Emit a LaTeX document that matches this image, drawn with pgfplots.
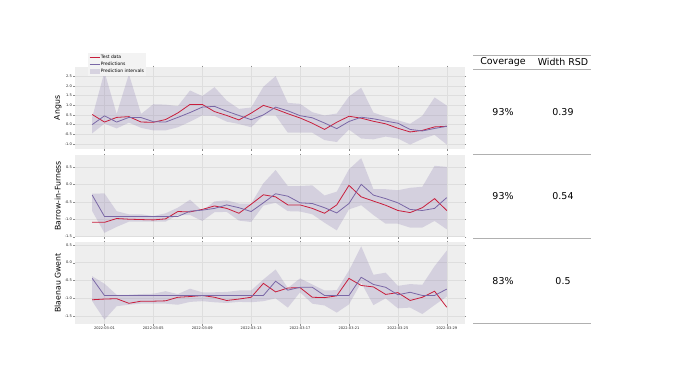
\documentclass[border=0pt]{standalone}
\usepackage{fontspec}
\setmainfont{DejaVu Sans}
\usepackage{pgfplots}
\usepackage{pgfplotstable}
\usepgfplotslibrary{fillbetween}
\pgfplotsset{compat=1.18}

\definecolor{bgGray}{HTML}{EEEEEE}
\definecolor{gridGray}{HTML}{DEDEDE}
\definecolor{testRed}{HTML}{C81E3C}
\definecolor{predPurple}{HTML}{7A68A6}
\definecolor{bandFill}{HTML}{D7D3E0}
\definecolor{legFill}{HTML}{F3F3F3}
\definecolor{tableLine}{HTML}{B0B0B0}

% day index: 0 = 2022-02-28 ... 29 = 2022-03-29
\pgfplotstableread{
d test pred lo hi
0 0.52 0.00 -0.45 0.38
1 0.13 0.45 0.05 2.72
2 0.37 0.13 -0.20 0.55
3 0.41 0.37 0.10 2.60
4 0.13 0.36 -0.17 0.55
5 0.12 0.15 -0.30 1.05
6 0.26 0.13 -0.30 1.03
7 0.60 0.37 -0.14 0.95
8 1.04 0.62 0.15 1.76
9 1.04 0.90 0.47 1.47
10 0.67 0.94 0.45 1.93
11 0.47 0.69 0.15 1.24
12 0.24 0.47 0.03 0.81
13 0.59 0.25 -0.14 0.88
14 0.99 0.50 0.47 1.95
15 0.80 0.90 0.47 2.50
16 0.56 0.71 -0.42 1.12
17 0.34 0.46 -0.42 1.07
18 0.07 0.35 -0.42 0.64
19 -0.25 0.08 -0.80 0.47
20 0.12 -0.21 -0.90 0.57
21 0.43 0.16 -0.26 1.45
22 0.33 0.38 -0.72 1.90
23 0.17 0.30 -0.76 0.62
24 0.04 0.18 -0.62 0.40
25 -0.19 0.07 -0.72 0.22
26 -0.38 -0.25 -1.03 0.04
27 -0.30 -0.33 -0.74 0.45
28 -0.12 -0.20 -0.53 1.40
29 -0.09 -0.09 -1.03 0.98
}\angus

\pgfplotstableread{
d test pred lo hi
0 -1.09 -0.31 -0.77 -0.27
1 -1.09 -0.92 -1.39 -0.26
2 -0.98 -0.92 -1.22 -0.77
3 -1.00 -0.92 -1.07 -0.86
4 -1.01 -0.92 -1.07 -0.86
5 -1.02 -0.92 -1.07 -0.91
6 -0.99 -0.92 -1.07 -0.83
7 -0.78 -0.92 -0.88 -0.67
8 -0.79 -0.77 -0.88 -0.44
9 -0.72 -0.74 -1.05 -0.76
10 -0.62 -0.69 -0.80 -0.49
11 -0.69 -0.59 -0.79 -0.46
12 -0.83 -0.67 -1.04 -0.55
13 -0.57 -0.78 -1.08 -0.55
14 -0.30 -0.53 -0.61 0.03
15 -0.36 -0.27 -0.53 0.41
16 -0.59 -0.34 -0.77 -0.05
17 -0.59 -0.53 -0.78 -0.05
18 -0.69 -0.55 -0.86 -0.03
19 -0.83 -0.67 -1.10 -0.32
20 -0.59 -0.82 -1.32 -0.21
21 -0.03 -0.55 -0.72 0.43
22 -0.36 0.00 -0.60 0.75
23 -0.48 -0.31 -0.88 -0.14
24 -0.60 -0.41 -1.13 -0.14
25 -0.75 -0.53 -1.13 -0.17
26 -0.81 -0.72 -1.24 -0.10
27 -0.67 -0.75 -1.24 -0.07
28 -0.41 -0.69 -1.05 0.53
29 -0.75 -0.38 -1.29 0.50
}\barrow

\pgfplotstableread{
d test pred lo hi
0 -1.04 -0.44 -1.08 -0.38
1 -1.02 -0.92 -1.60 -0.59
2 -1.01 -0.92 -1.22 -0.90
3 -1.14 -0.92 -1.18 -0.90
4 -1.08 -0.92 -1.15 -0.88
5 -1.08 -0.92 -1.15 -0.87
6 -1.07 -0.92 -1.15 -0.80
7 -0.97 -0.92 -1.18 -0.88
8 -0.95 -0.92 -1.10 -0.73
9 -0.92 -0.92 -1.08 -0.83
10 -0.97 -0.92 -1.11 -0.83
11 -1.06 -0.92 -1.13 -0.82
12 -1.02 -0.92 -1.10 -0.78
13 -0.97 -0.92 -1.11 -0.78
14 -0.58 -0.92 -1.08 -0.47
15 -0.82 -0.52 -1.00 -0.19
16 -0.71 -0.77 -1.26 -0.71
17 -0.70 -0.69 -0.83 -0.44
18 -0.97 -0.69 -1.15 -0.61
19 -0.98 -0.92 -1.20 -0.78
20 -0.93 -0.92 -1.40 -0.77
21 -0.44 -0.92 -1.17 -0.22
22 -0.64 -0.41 -0.56 0.46
23 -0.68 -0.61 -1.19 -0.34
24 -0.89 -0.69 -1.00 -0.28
25 -0.84 -0.90 -1.28 -0.65
26 -1.06 -0.83 -1.26 -0.60
27 -0.97 -0.92 -1.44 -0.62
28 -0.80 -0.92 -1.19 -0.10
29 -1.25 -0.74 -0.95 0.34
}\blaenau

\pgfplotsset{
  panel/.style={
    scale only axis, width=390bp, height=82bp,
    anchor=north west,
    xmin=-1.45, xmax=30.45,
    axis background/.style={fill=bgGray},
    axis line style={draw=none},
    grid=major, major grid style={draw=gridGray, line width=0.4bp},
    xtick={1,5,9,13,17,21,25,29},
    ytick={-1.5,-1,-0.5,0,0.5,1,1.5,2,2.5},
    tick align=outside, major tick length=1.5bp,
    tick style={draw=black!45, line width=0.3bp},
    tick label style={font=\fontsize{3.6}{4}\selectfont, text=black!85, inner sep=1bp},
    /pgf/number format/assume math mode=true,
    yticklabel style={/pgf/number format/.cd, fixed, fixed zerofill, precision=1},
    ylabel style={font=\fontsize{7.8}{9}\selectfont, at={(axis description cs:-0.043,0.5)}, anchor=center},
  },
  legTest/.style={legend image code/.code={\path[draw=testRed, line width=0.9bp] (0bp,0bp) -- (10bp,0bp);}},
  legPred/.style={legend image code/.code={\path[draw=predPurple, line width=0.9bp] (0bp,0bp) -- (10bp,0bp);}},
  legBand/.style={legend image code/.code={\path[fill=bandFill, draw=none] (0bp,-2.2bp) rectangle (10bp,2.2bp);}},
}

\newcommand{\drawpanel}[1]{%
  \addplot[name path=hi, draw=none, forget plot] table[x=d, y=hi] {#1};
  \addplot[name path=lo, draw=none, forget plot] table[x=d, y=lo] {#1};
  \addplot[fill=predPurple, fill opacity=0.22, draw=none, forget plot] fill between[of=hi and lo];
  \addplot[testRed, line width=0.8bp, forget plot] table[x=d, y=test] {#1};
  \addplot[predPurple, line width=0.8bp, forget plot] table[x=d, y=pred] {#1};
}

\begin{document}
\begin{tikzpicture}

\begin{axis}[panel, at={(74.5bp,-67bp)},
  ymin=-1.26, ymax=2.97,
  xticklabels={},
  ylabel={Angus},
  legend cell align=left,
  legend style={at={(0.0345,1.173)}, anchor=north west, fill=legFill, draw=none,
    font=\fontsize{4.5}{5}\selectfont, inner sep=1bp, row sep=0.6bp,
    nodes={inner sep=0.8bp}},
]
\drawpanel{\angus}
\addlegendimage{legTest}
\addlegendentry{Test data}
\addlegendimage{legPred}
\addlegendentry{Predictions}
\addlegendimage{legBand}
\addlegendentry{Prediction intervals}
\end{axis}

\begin{axis}[panel, at={(74.5bp,-155bp)},
  ymin=-1.51, ymax=0.84,
  xticklabels={},
  ylabel={Barrow-in-Furness},
]
\drawpanel{\barrow}
\end{axis}

\begin{axis}[panel, at={(74.5bp,-242bp)},
  ymin=-1.72, ymax=0.58,
  xticklabels={2022-03-01,2022-03-05,2022-03-09,2022-03-13,2022-03-17,2022-03-21,2022-03-25,2022-03-29},
  ylabel={Blaenau Gwent},
]
\drawpanel{\blaenau}
\end{axis}

% summary table
\begin{scope}[font=\fontsize{9.5}{11}\selectfont]
\draw[tableLine, line width=0.6bp] (473bp,-55.5bp) -- (591bp,-55.5bp);
\node at (503bp,-62bp) {Coverage};
\node at (563bp,-62bp) {Width RSD};
\draw[tableLine, line width=0.6bp] (473bp,-69bp) -- (591bp,-69bp);
\node at (503bp,-112bp) {93\%};
\node at (563bp,-112bp) {0.39};
\draw[tableLine, line width=0.6bp] (473bp,-154bp) -- (591bp,-154bp);
\node at (503bp,-196bp) {93\%};
\node at (563bp,-196bp) {0.54};
\draw[tableLine, line width=0.6bp] (473bp,-238bp) -- (591bp,-238bp);
\node at (503bp,-281bp) {83\%};
\node at (563bp,-281bp) {0.5};
\draw[tableLine, line width=0.6bp] (473bp,-323bp) -- (591bp,-323bp);
\end{scope}

\path (0,0) rectangle (675bp,-383bp);
\end{tikzpicture}
\end{document}
